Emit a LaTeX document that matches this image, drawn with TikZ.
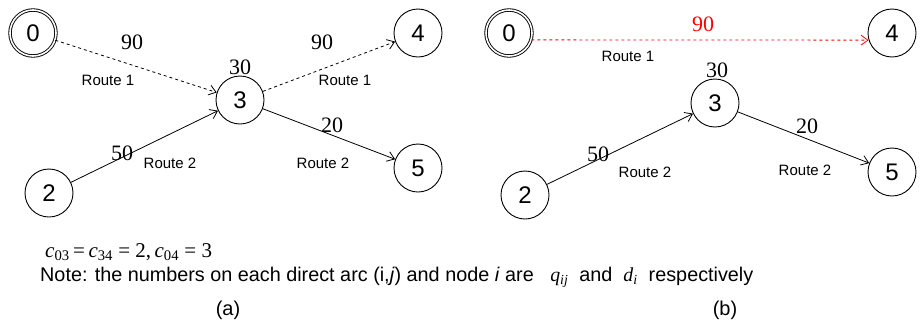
\documentclass[tikz,border=0pt]{standalone}
\usepackage{fontspec}
\setmainfont{Liberation Sans}
\newfontfamily\numfont{Liberation Serif}
\usepackage{tikz}
\usetikzlibrary{arrows.meta}
\tikzstyle{city} = [circle, draw=black, line width=0.9pt, minimum size=48pt, inner sep=0pt, font=\fontsize{24}{24}\selectfont]
\tikzstyle{depot} = [city, double, double distance=1.6pt, line width=0.9pt, minimum size=46pt]
\tikzstyle{arrow} = [line width=0.8pt, ->, >={Straight Barb[length=7pt,width=10pt]}]
\tikzstyle{qty} = [font=\numfont\fontsize{22}{22}\selectfont, inner sep=0pt]
\tikzstyle{route} = [font=\fontsize{15}{15}\selectfont, inner sep=0pt]

\begin{document}
\begin{tikzpicture}[x=1pt, y=-1pt]
\useasboundingbox (0,0) rectangle (921,322);
% (a)
\node (a0) [depot] at (33,33) {0};
\node (a3) [city] at (240,100) {3};
\node (a4) [city] at (418,33) {4};
\node (a2) [city] at (49,193) {2};
\node (a5) [city] at (418,168) {5};

\draw [arrow, dashed] (a0) -- (a3);
\draw [arrow, dashed] (a3) -- (a4);
\draw [arrow] (a2) -- (a3);
\draw [arrow] (a3) -- (a5);

\node (a90a) [qty] at (132,42) {90};
\node (a90b) [qty] at (322,42) {90};
\node (a30) [qty] at (240,67) {30};
\node (a20) [qty] at (332,125) {20};
\node (a50) [qty] at (122,153) {50};
\node (ar1a) [route] at (108,80) {Route 1};
\node (ar1b) [route] at (345,80) {Route 1};
\node (ar2a) [route] at (170,163) {Route 2};
\node (ar2b) [route] at (323,163) {Route 2};

% (b)
\node (b0) [depot] at (509,33) {0};
\node (b3) [city] at (715,103) {3};
\node (b4) [city] at (892,33) {4};
\node (b2) [city] at (525,195) {2};
\node (b5) [city] at (892,172) {5};

\draw [arrow, dashed, red] (b0.-17) -- (b4.197);
\draw [arrow] (b2) -- (b3);
\draw [arrow] (b3) -- (b5);

\node (b90) [qty, red] at (703,24) {90};
\node (b30) [qty] at (717,70) {30};
\node (b20) [qty] at (807,126) {20};
\node (b50) [qty] at (598,154) {50};
\node (br1) [route] at (628,56) {Route 1};
\node (br2a) [route] at (645,172) {Route 2};
\node (br2b) [route] at (805,170) {Route 2};

% notes
\node (cost) [anchor=base west, inner sep=0pt, font=\numfont\fontsize{21}{21}\selectfont] at (45,257)
  {\textit{c}\textsubscript{03}\,=\,\textit{c}\textsubscript{34} = 2,\,\textit{c}\textsubscript{04} = 3};
\node (note) [anchor=base west, inner sep=0pt, font=\fontsize{19.8}{19.8}\selectfont] at (40,281)
  {Note: the numbers on each direct arc (i,\textit{j}) and node \textit{i} are \ \ {\numfont\textit{q}\textsubscript{\textit{ij}}}\ \ and \ {\numfont\textit{d}\textsubscript{\textit{i}}}\ \ respectively};
\node (capa) [anchor=base, inner sep=0pt, font=\fontsize{20}{20}\selectfont] at (228,315) {(a)};
\node (capb) [anchor=base, inner sep=0pt, font=\fontsize{20}{20}\selectfont] at (725,315) {(b)};
\end{tikzpicture}
\end{document}
